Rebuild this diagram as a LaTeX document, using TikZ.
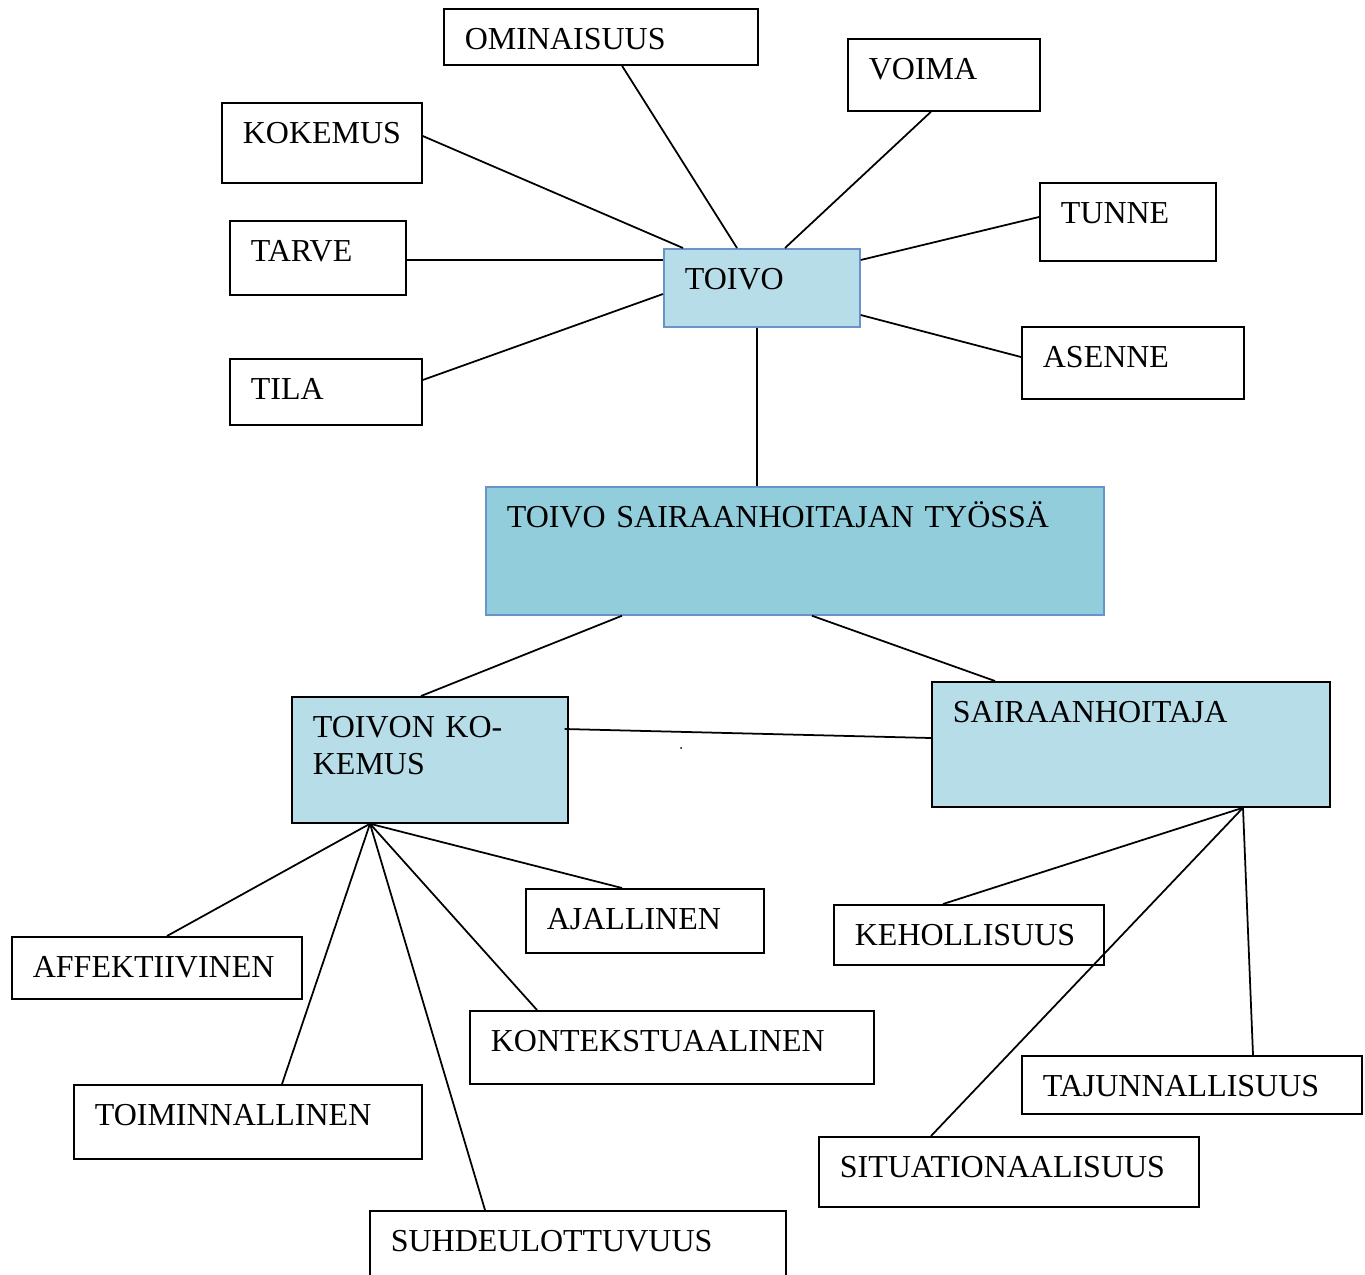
\documentclass[tikz,border=0pt]{standalone}
\usepackage{fontspec}
\setmainfont{Liberation Serif}
\usetikzlibrary{positioning}
\definecolor{lightaqua}{HTML}{B7DDE8}
\definecolor{midaqua}{HTML}{92CDDC}
\definecolor{edgeblue}{HTML}{6A93CC}
\tikzstyle{concept} = [rectangle, draw=black, fill=white, line width=1pt, anchor=north west, inner xsep=0.42cm, inner ysep=0pt, text height=0.82cm, align=left, font=\fontsize{18.2}{21}\selectfont]
\tikzstyle{core} = [concept, fill=lightaqua]
\tikzstyle{coreblue} = [concept, draw=edgeblue, fill=lightaqua]
\tikzstyle{mainbox} = [concept, draw=edgeblue, fill=midaqua]
\tikzstyle{line} = [line width=1pt]

\begin{document}
\begin{tikzpicture}[x=0.02cm, y=-0.02cm]
		\useasboundingbox (0,0) rectangle (1365,1274);
		% upper part: toivo
		\node (ominaisuus) [concept, text width=5.44cm, text depth=0.30cm] at (443,8) {OMINAISUUS};
		\node (voima) [concept, text width=3.00cm, text depth=0.62cm] at (847,38) {VOIMA};
		\node (kokemus) [concept, text width=3.16cm, text depth=0.78cm] at (221,102) {KOKEMUS};
		\node (tunne) [concept, text width=2.68cm, text depth=0.74cm] at (1039,182) {TUNNE};
		\node (tarve) [concept, text width=2.68cm, text depth=0.66cm] at (229,220) {TARVE};
		\node (toivo) [coreblue, text width=3.08cm, text depth=0.74cm] at (663,248) {TOIVO};
		\node (asenne) [concept, text width=3.60cm, text depth=0.62cm] at (1021,326) {ASENNE};
		\node (tila) [concept, text width=3.00cm, text depth=0.50cm] at (229,358) {TILA};

		\node (tyossa) [mainbox, text width=11.52cm, text depth=1.74cm] at (485,486) {TOIVO SAIRAANHOITAJAN TYÖSSÄ};

		% lower part
		\node (toivonkokemus) [core, text width=4.68cm, text depth=1.70cm] at (291,696) {TOIVON KO-\\KEMUS};
		\node (hoitaja) [core, text width=7.12cm, text depth=1.68cm] at (931,681) {SAIRAANHOITAJA};

		\node (ajallinen) [concept, text width=3.92cm, text depth=0.46cm] at (525,888) {AJALLINEN};
		\node (affektiivinen) [concept, text width=4.96cm, text depth=0.42cm] at (11,936) {AFFEKTIIVINEN};
		\node (kontekstuaalinen) [concept, text width=7.24cm, text depth=0.64cm] at (469,1010) {KONTEKSTUAALINEN};
		\node (toiminnallinen) [concept, text width=6.12cm, text depth=0.66cm] at (73,1084) {TOIMINNALLINEN};
		\node (suhde) [concept, text width=7.48cm, text depth=1.00cm] at (369,1210) {SUHDEULOTTUVUUS};

		\node (kehollisuus) [concept, text width=4.56cm, text depth=0.38cm] at (833,904) {KEHOLLISUUS};
		\node (tajunnallisuus) [concept, text width=5.96cm, text depth=0.34cm] at (1021,1055) {TAJUNNALLISUUS};
		\node (situationaalisuus) [concept, text width=6.76cm, text depth=0.58cm] at (818,1136) {SITUATIONAALISUUS};

		% connectors
		\draw [line] ([shift={(179,0)}]ominaisuus.south west) -- ([shift={(74,0)}]toivo.north west);
		\draw [line] ([shift={(84,0)}]voima.south west) -- ([shift={(122,0)}]toivo.north west);
		\draw [line] ([shift={(0,34)}]kokemus.north east) -- ([shift={(20,0)}]toivo.north west);
		\draw [line] ([shift={(0,35)}]tunne.north west) -- ([shift={(0,12)}]toivo.north east);
		\draw [line] ([shift={(0,40)}]tarve.north east) -- ([shift={(0,12)}]toivo.north west);
		\draw [line] ([shift={(0,31)}]asenne.north west) -- ([shift={(0,67)}]toivo.north east);
		\draw [line] ([shift={(0,22)}]tila.north east) -- ([shift={(0,46)}]toivo.north west);
		\draw [line] ([shift={(94,0)}]toivo.south west) -- ([shift={(272,0)}]tyossa.north west);

		\draw [line] ([shift={(137,0)}]tyossa.south west) -- ([shift={(130,0)}]toivonkokemus.north west);
		\draw [line] ([shift={(327,0)}]tyossa.south west) -- ([shift={(64,0)}]hoitaja.north west);
		\draw [line] ([shift={(-4,33)}]toivonkokemus.north east) -- ([shift={(0,57)}]hoitaja.north west);

		\draw [line] ([shift={(79,0)}]toivonkokemus.south west) -- ([shift={(156,0)}]affektiivinen.north west);
		\draw [line] ([shift={(79,0)}]toivonkokemus.south west) -- ([shift={(209,0)}]toiminnallinen.north west);
		\draw [line] ([shift={(79,0)}]toivonkokemus.south west) -- ([shift={(116,0)}]suhde.north west);
		\draw [line] ([shift={(79,0)}]toivonkokemus.south west) -- ([shift={(68,0)}]kontekstuaalinen.north west);
		\draw [line] ([shift={(79,0)}]toivonkokemus.south west) -- ([shift={(97,0)}]ajallinen.north west);

		\draw [line] ([shift={(312,0)}]hoitaja.south west) -- ([shift={(110,0)}]kehollisuus.north west);
		\draw [line] ([shift={(312,0)}]hoitaja.south west) -- ([shift={(113,0)}]situationaalisuus.north west);
		\draw [line] ([shift={(312,0)}]hoitaja.south west) -- ([shift={(232,0)}]tajunnallisuus.north west);

		\fill (681,748) circle (1);
	\end{tikzpicture}
\end{document}
